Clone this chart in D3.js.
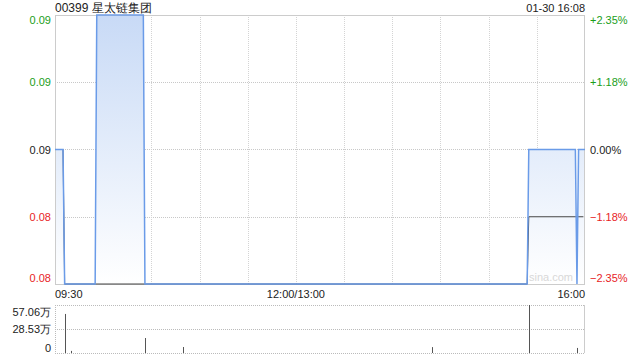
<!DOCTYPE html>
<html>
<head>
<meta charset="utf-8">
<script src="https://d3js.org/d3.v7.min.js"></script>
<style>
  body { margin: 0; background: #fff; }
  text { font-family: "Liberation Sans", Arial, sans-serif; }
</style>
</head>
<body>
<div id="chart"></div>
<script>
// minutes since 09:30 (lunch removed: 150 = 12:00/13:00, 330 = 16:00)
const priceTimes = [0, 5, 6, 25, 26, 55, 56, 294, 295, 324, 325, 326, 330];
const prices     = [0.085, 0.085, 0.083, 0.083, 0.087, 0.087, 0.083, 0.083, 0.085, 0.085, 0.083, 0.085, 0.085];
const avgTimes   = [0, 5, 6, 294, 295, 329];
const avgPrices  = [0.085, 0.085, 0.083, 0.083, 0.084, 0.084];
const volTimes   = [6, 10, 56, 80, 235, 295, 325];
const volValues  = [46.4, 2.5, 17.8, 7.1, 7.0, 57.06, 6.0]; // 万
const prevClose = 0.085;
const priceTicks = [0.087, 0.086, 0.085, 0.084, 0.083];
const priceLabels = ["0.09", "0.09", "0.09", "0.08", "0.08"];
const volTicks = [57.06, 28.53, 0];
const volLabels = ["57.06万", "28.53万", "0"];
const timeTicks = [0, 150, 330];
const timeLabels = ["09:30", "12:00/13:00", "16:00"];
const gridTimes = [30, 60, 90, 120, 150, 180, 210, 240, 270, 300];
const title = "00399 星太链集团";
const stamp = "01-30 16:08";

const W = 640, H = 360;
const L = 55, R = 585, T = 15, B = 284;
const vT = 305, vB = 353;

const svg = d3.select("#chart").append("svg").attr("width", W).attr("height", H);

const x = d3.scaleLinear().domain([0, 330]).range([L, R]);
const y = d3.scaleLinear().domain([0.083, 0.087]).range([B, T]);
const yv = d3.scaleLinear().domain([0, 57.06]).range([vB, vT]);

const up = "#1a9e1a", down = "#e8231f";
const colorOf = v => v > prevClose + 1e-9 ? up : (v < prevClose - 1e-9 ? down : "#222");

// gradient fill
const grad = svg.append("defs").append("linearGradient")
  .attr("id", "fill").attr("gradientUnits", "userSpaceOnUse")
  .attr("x1", 0).attr("y1", T).attr("x2", 0).attr("y2", B);
grad.append("stop").attr("offset", "0%").attr("stop-color", "#c8daf6");
grad.append("stop").attr("offset", "100%").attr("stop-color", "#ffffff");

// grid
svg.append("g").selectAll("line").data(priceTicks.slice(1, 4)).join("line")
  .attr("x1", L).attr("x2", R).attr("y1", d => Math.round(y(d)) + 0.5).attr("y2", d => Math.round(y(d)) + 0.5)
  .attr("stroke", "#c8c8c8").attr("stroke-dasharray", "1,1");
svg.append("g").selectAll("line").data(gridTimes).join("line")
  .attr("x1", d => Math.round(x(d)) + 0.5).attr("x2", d => Math.round(x(d)) + 0.5)
  .attr("y1", T).attr("y2", B)
  .attr("stroke", "#d4d4d4").attr("stroke-dasharray", "1,1");

const pts = priceTimes.map((t, i) => [t, prices[i]]);
svg.append("path").datum(pts)
  .attr("d", d3.area().x(d => x(d[0])).y0(B).y1(d => y(d[1])))
  .attr("fill", "url(#fill)");

// frame
svg.append("rect").attr("x", L + 0.5).attr("y", T + 0.5).attr("width", R - L - 1).attr("height", B - T)
  .attr("fill", "none").attr("stroke", "#ccc");

// average line
const avgPts = avgTimes.map((t, i) => [t, avgPrices[i]]);
svg.append("path").datum(avgPts)
  .attr("d", d3.line().x(d => x(d[0])).y(d => y(d[1])))
  .attr("fill", "none").attr("stroke", "#444").attr("stroke-width", 1);

// price line
svg.append("path").datum(pts)
  .attr("d", d3.line().x(d => x(d[0])).y(d => y(d[1])))
  .attr("fill", "none").attr("stroke", "#6a9be8").attr("stroke-width", 1.5);

// watermark
svg.append("text").attr("x", R - 12).attr("y", B - 3).attr("text-anchor", "end")
  .attr("font-size", 11).attr("fill", "#d8d8d8").text("sina.com");

// y labels
const adj = (i, n) => i === 0 ? 9 : (i === n - 1 ? -2 : 4);
svg.append("g").selectAll("text").data(priceTicks).join("text")
  .attr("x", L - 4).attr("y", (d, i) => y(d) + adj(i, priceTicks.length))
  .attr("text-anchor", "end").attr("font-size", 11)
  .attr("fill", d => colorOf(d)).text((d, i) => priceLabels[i]);
const pct = d3.format(".2%");
svg.append("g").selectAll("text").data(priceTicks).join("text")
  .attr("x", R + 5).attr("y", (d, i) => y(d) + adj(i, priceTicks.length))
  .attr("font-size", 11).attr("fill", d => colorOf(d))
  .text(d => { const p = (d - prevClose) / prevClose; return Math.abs(p) < 1e-9 ? "0.00%" : (p > 0 ? "+" : "") + pct(p); });

// title & stamp
svg.append("text").attr("x", L).attr("y", 12).attr("font-size", 12).attr("fill", "#222").text(title);
svg.append("text").attr("x", R).attr("y", 12).attr("text-anchor", "end").attr("font-size", 11).attr("fill", "#222").text(stamp);

// time labels
svg.append("g").selectAll("text").data(timeTicks).join("text")
  .attr("x", d => x(d)).attr("y", 298)
  .attr("text-anchor", (d, i) => i === 0 ? "start" : (i === timeTicks.length - 1 ? "end" : "middle"))
  .attr("font-size", 11).attr("fill", "#222").text((d, i) => timeLabels[i]);

// volume panel
svg.append("g").selectAll("line").data(volTicks).join("line")
  .attr("x1", L).attr("x2", R).attr("y1", d => Math.round(yv(d)) + 0.5).attr("y2", d => Math.round(yv(d)) + 0.5)
  .attr("stroke", "#bbb").attr("stroke-dasharray", "1,1");
svg.append("line").attr("x1", L + 0.5).attr("x2", L + 0.5).attr("y1", vT).attr("y2", vB)
  .attr("stroke", "#bbb").attr("stroke-dasharray", "1,1");
svg.append("line").attr("x1", R - 0.5).attr("x2", R - 0.5).attr("y1", vT).attr("y2", vB)
  .attr("stroke", "#ccc");
svg.append("g").selectAll("line").data(volTimes).join("line")
  .attr("x1", d => Math.round(x(d)) + 0.5).attr("x2", d => Math.round(x(d)) + 0.5)
  .attr("y1", vB).attr("y2", (d, i) => yv(volValues[i]))
  .attr("stroke", "#555").attr("stroke-width", 1);
const vadj = [11, 4, -1];
svg.append("g").selectAll("text").data(volTicks).join("text")
  .attr("x", L - 4).attr("y", (d, i) => yv(d) + vadj[i])
  .attr("text-anchor", "end").attr("font-size", 11).attr("fill", "#222")
  .text((d, i) => volLabels[i]);
</script>
</body>
</html>
